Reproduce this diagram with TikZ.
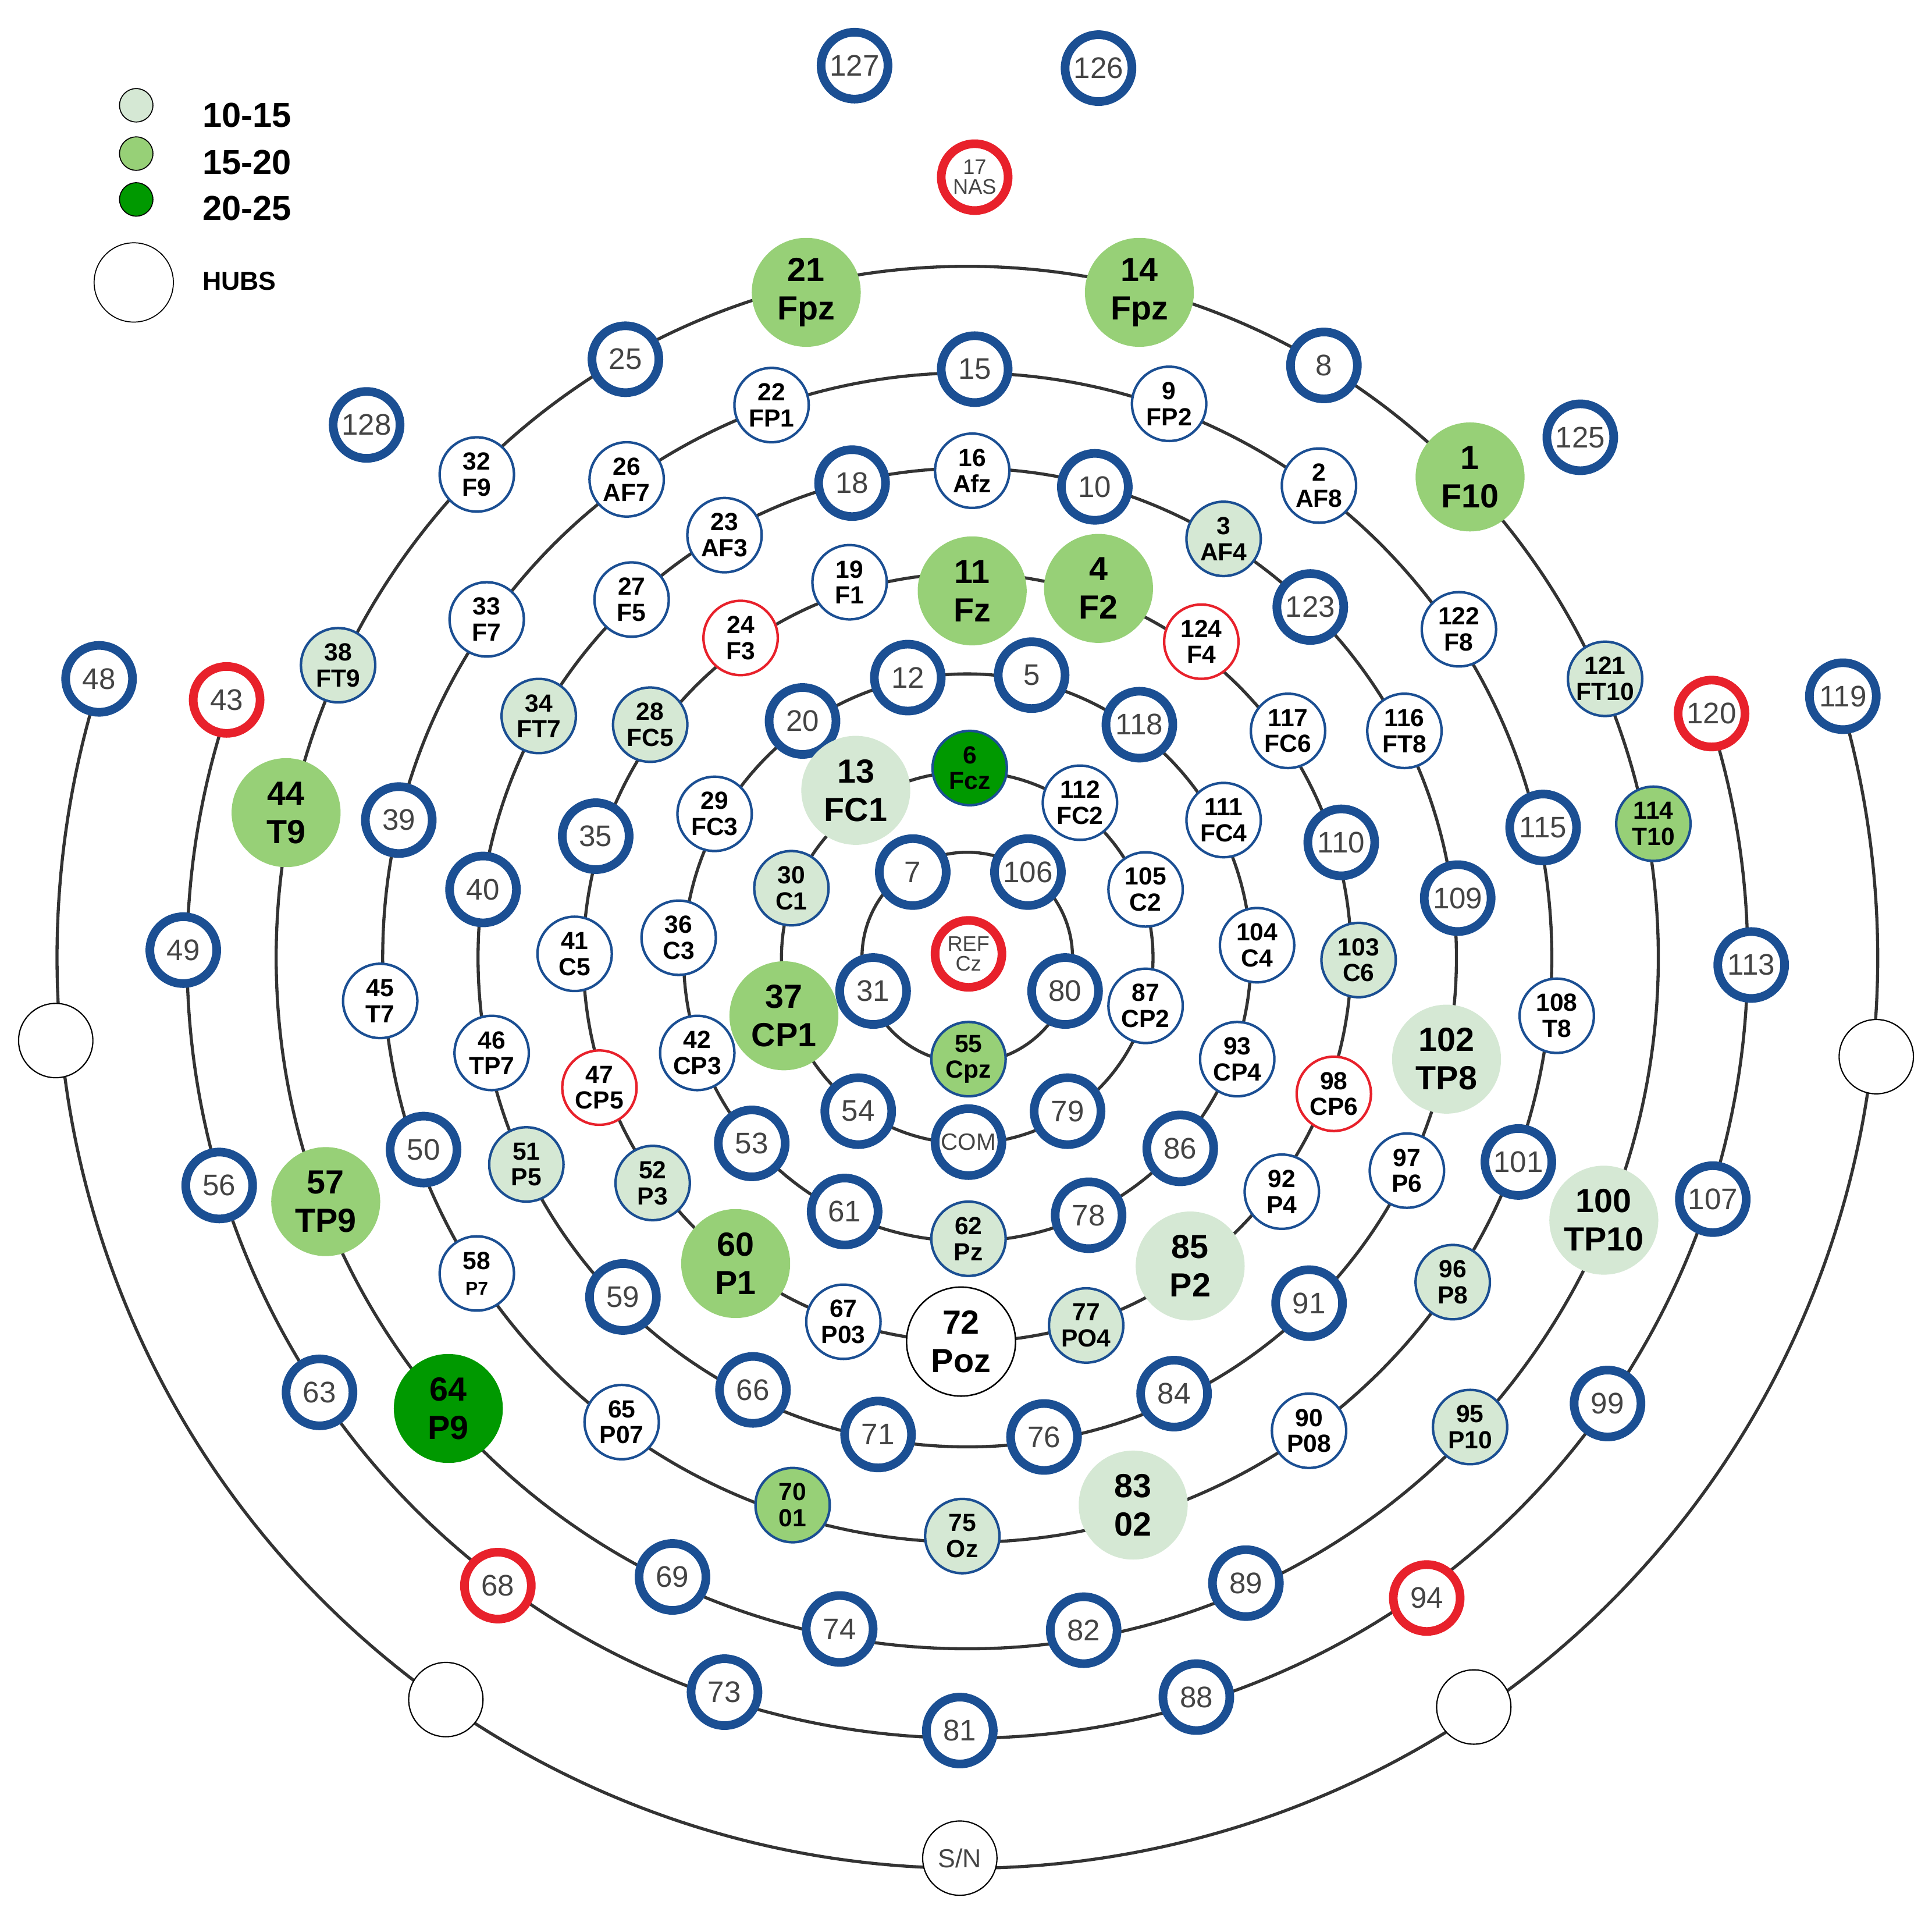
\documentclass[tikz,border=0pt]{standalone}
\usepackage{fontspec}
\setmainfont{Liberation Sans}
\definecolor{bl}{HTML}{1B4F93}
\definecolor{rd}{HTML}{E8212B}
\definecolor{lgc}{HTML}{D5E8D4}
\definecolor{mgc}{HTML}{97D077}
\definecolor{dgc}{HTML}{009900}
\definecolor{gtx}{HTML}{444444}
\definecolor{ln}{HTML}{333333}
\tikzset{
 bluen/.style={circle,draw=bl,line width=7pt,fill=white,minimum size=54pt,inner sep=0pt,text=gtx,font=\fontsize{24}{24}\selectfont},
 redn/.style={bluen,draw=rd},
 lab/.style={circle,draw=bl,line width=2pt,fill=white,minimum size=60pt,inner sep=0pt,align=center,font=\bfseries\fontsize{20}{21}\selectfont},
 labr/.style={lab,draw=rd},
 lgs/.style={lab,fill=lgc},
 mgs/.style={lab,fill=mgc},
 dgs/.style={lab,fill=dgc},
 big/.style={circle,minimum size=88pt,inner sep=0pt,align=center,font=\bfseries\fontsize{27}{31}\selectfont},
 hub/.style={circle,draw=black,line width=1pt,fill=white,minimum size=60pt,inner sep=0pt},
 ring/.style={draw=ln,line width=2.5pt},
}
\begin{document}
\begin{tikzpicture}[x=1pt,y=-1pt]
\useasboundingbox (0,0) rectangle (1560,1540);
\coordinate (C) at (781,773);
% rings
\foreach \r in {85,150,229,310,395,472,558} \draw[ring] (C) circle[radius=\r];
\draw[ring] (C) ++(-18.3:630) arc[start angle=-18.3,end angle=199.3,radius=630];
\draw[ring] (C) ++(-16.6:735) arc[start angle=-16.6,end angle=197.8,radius=735];
% blue numbered
\foreach \n/\x/\y in {127/690/53,126/887/55,128/296/343,125/1276/353,7/737/704,106/830/704,31/705/800,80/860/800,79/862/897,54/693/897,12/733/547,5/833/545,118/920/585,86/953/927,78/879/981,61/682/978,53/607/923,20/648/582,110/1083/680,35/481/675,18/688/390,10/884/393,123/1058/490,109/1177/725,91/1057/1052,84/948/1125,76/843/1160,71/709/1158,66/608/1122,59/503/1047,40/390/718,15/787/298,115/1246/668,101/1226/938,50/342/928,39/322/662,25/505/290,8/1069/295,89/1006/1278,82/875/1316,74/678/1315,69/543/1273,49/148/767,56/177/957,63/258/1124,73/585/1366,81/775/1397,88/966/1370,99/1298/1133,107/1383/968,113/1414/779,48/80/548,119/1488/562}
  \node[bluen] (n\n) at (\x,\y) {\n};
\node[bluen,font=\fontsize{19}{19}\selectfont] (nCOM) at (782,922) {COM};
\foreach \n/\x/\y in {43/183/565,68/402/1280,94/1152/1290,120/1382/576}
  \node[redn] (n\n) at (\x,\y) {\n};
\node[redn,align=center,font=\fontsize{17}{16}\selectfont] (n17) at (787,143) {17\\NAS};
\node[redn,align=center,font=\fontsize{17}{16}\selectfont] (nREF) at (782,770) {REF\\Cz};
% white labelled
\foreach \n/\l/\x/\y in {112/FC2/872/648,105/C2/925/718,87/CP2/925/812,111/FC4/988/662,104/C4/1015/763,93/CP4/999/855,42/CP3/563/850,36/C3/548/757,29/FC3/577/657,19/F1/686/470,117/FC6/1040/590,92/P4/1035/962,67/P03/681/1067,41/C5/464/770,23/AF3/585/432,16/Afz/785/380,116/FT8/1134/590,97/P6/1136/945,46/TP7/397/850,27/F5/510/484,26/AF7/506/387,22/FP1/623/327,9/FP2/944/326,2/AF8/1065/392,122/F8/1178/508,108/T8/1257/820,90/P08/1057/1155,65/P07/502/1148,45/T7/307/808,33/F7/393/500,32/F9/385/383}
  \node[lab] (n\n) at (\x,\y) {\n\\\l};
\node[lab] (n58) at (385,1028) {58\\{\fontsize{15}{16}\selectfont P7}};
\foreach \n/\l/\x/\y in {24/F3/598/515,124/F4/970/518,98/CP6/1077/883,47/CP5/484/878}
  \node[labr] (n\n) at (\x,\y) {\n\\\l};
\foreach \n/\l/\x/\y in {30/C1/639/717,62/Pz/782/1000,103/C6/1097/775,77/PO4/877/1070,52/P3/527/955,28/FC5/525/585,3/AF4/988/435,51/P5/425/940,34/FT7/435/578,96/P8/1173/1035,75/Oz/777/1240,121/FT10/1296/548,95/P10/1187/1152,38/FT9/273/537}
  \node[lgs] (n\n) at (\x,\y) {\n\\\l};
\foreach \n/\l/\x/\y in {55/Cpz/782/855,70/01/640/1215,114/T10/1335/665}
  \node[mgs] (n\n) at (\x,\y) {\n\\\l};
\node[dgs] (n6) at (783,620) {6\\Fcz};
% big
\foreach \n/\l/\x/\y in {13/FC1/691/638,102/TP8/1168/855,100/TP10/1295/985,85/P2/961/1022,83/02/915/1215}
  \node[big,fill=lgc] (n\n) at (\x,\y) {\n\\\l};
\foreach \n/\l/\x/\y in {21/Fpz/651/236,14/Fpz/920/236,1/F10/1187/385,11/Fz/785/477,4/F2/887/475,44/T9/231/656,57/TP9/263/970,37/CP1/633/820,60/P1/594/1020}
  \node[big,fill=mgc] (n\n) at (\x,\y) {\n\\\l};
\node[big,fill=dgc] (n64) at (362,1137) {64\\P9};
\node[big,draw=black,line width=1.2pt,fill=white] (n72) at (776,1083) {72\\Poz};
% hubs
\node[hub] (hA) at (45,840) {};
\node[hub] (hB) at (360,1372) {};
\node[hub,text=gtx,font=\fontsize{21}{21}\selectfont] (hSN) at (775,1500) {S/N};
\node[hub] (hC) at (1190,1378) {};
\node[hub] (hD) at (1515,853) {};
% legend
\node[circle,draw=black,line width=0.8pt,fill=lgc,minimum size=27pt] (l1) at (110,85) {};
\node[circle,draw=black,line width=0.8pt,fill=mgc,minimum size=27pt] (l2) at (110,124) {};
\node[circle,draw=black,line width=0.8pt,fill=dgc,minimum size=27pt] (l3) at (110,161) {};
\node[circle,draw=black,line width=0.8pt,fill=white,minimum size=64pt] (l4) at (108,228) {};
\node[anchor=west,font=\bfseries\fontsize{28}{28}\selectfont] (t1) at (160,93) {10-15};
\node[anchor=west,font=\bfseries\fontsize{28}{28}\selectfont] (t2) at (160,131) {15-20};
\node[anchor=west,font=\bfseries\fontsize{28}{28}\selectfont] (t3) at (160,168) {20-25};
\node[anchor=west,font=\bfseries\fontsize{21}{21}\selectfont] (t4) at (160,227) {HUBS};
\end{tikzpicture}
\end{document}
